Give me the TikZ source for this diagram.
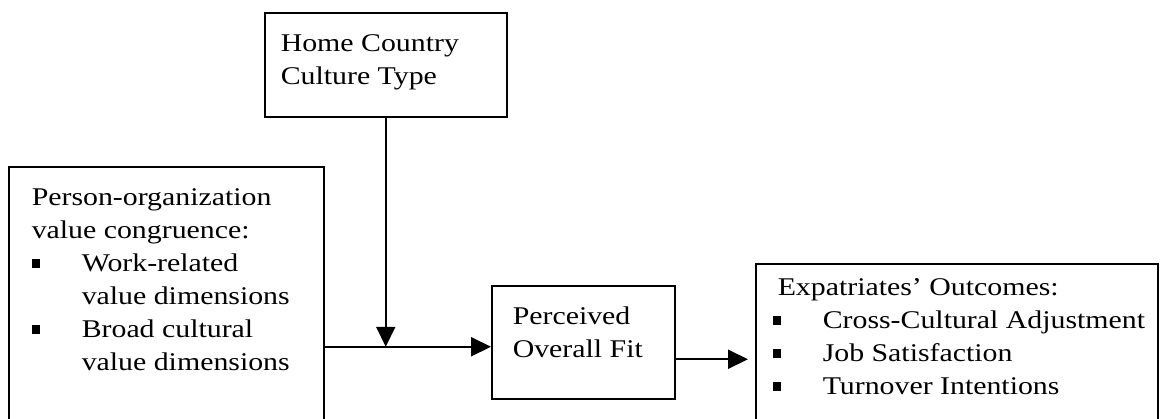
\documentclass[tikz,border=0pt]{standalone}
\usepackage{fontspec}
\setmainfont{Liberation Serif}[FakeStretch=1.17]
\usetikzlibrary{arrows.meta,calc}
\tikzset{
box/.style={draw, line width=1.5pt, anchor=north west, inner sep=0pt, font=\fontsize{25.5}{33}\selectfont}, % boxes of the model
link/.style={line width=2pt, -{Triangle[length=20pt,width=19pt]}}, % filled arrow heads
}
\newcommand{\bul}[1][50pt]{\makebox[#1][l]{\rule[4pt]{8.5pt}{8.5pt}}}
\newcommand{\bx}[3]{\parbox[t][#2][t]{#1}{\raggedright #3}}

\begin{document}
\begin{tikzpicture}[x=1pt,y=-1pt]
\clip (0,0) rectangle (1162,418);
%Boxes
\node[box, inner xsep=16pt, inner ysep=22pt] (hct) at (264,12) {\bx{210pt}{60pt}{Home Country\\Culture Type}};
\node[box, inner xsep=23pt, inner ysep=22pt] (pov) at (8,166) {\bx{269pt}{260pt}{Person-organization\\value congruence:\\\bul Work-related\\\hspace*{50pt}value dimensions\\\bul Broad cultural\\\hspace*{50pt}value dimensions}};
\node[box, inner xsep=21pt, inner ysep=21pt] (pof) at (491,285) {\bx{141pt}{71pt}{Perceived\\Overall Fit}};
\node[box, inner xsep=22pt, inner ysep=15pt] (eo) at (755,263) {\bx{358pt}{200pt}{Expatriates’ Outcomes:\\\mbox{\hspace*{-5pt}\bul[50pt]Cross-Cultural Adjustment}\\\mbox{\hspace*{-5pt}\bul[50pt]Job Satisfaction}\\\mbox{\hspace*{-5pt}\bul[50pt]Turnover Intentions}}};
%Arrows
\coordinate (fitin) at ([yshift=-4.5pt]pof.west);
\coordinate (fitout) at ([yshift=-17pt]pof.east);
\draw[link] (pov.east |- fitin) -- (fitin);
\draw[link] (hct.south) -- (hct.south |- fitin);
\draw[link] (fitout) -- ([xshift=-7pt]eo.west |- fitout);
\end{tikzpicture}
\end{document}
